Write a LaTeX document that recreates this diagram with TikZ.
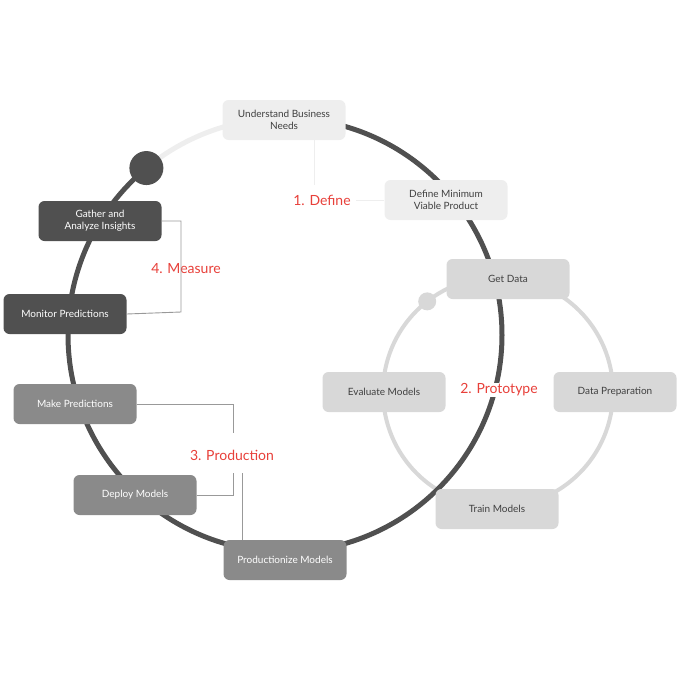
\documentclass[tikz,border=0pt]{standalone}
\usepackage{fontspec}
\setmainfont{Lato}
\usetikzlibrary{calc}
\begin{document}
\begin{tikzpicture}[x=1pt,y=-1pt,
 box/.style={rounded corners=6pt,minimum width=123pt,minimum height=40pt,align=center,font=\fontsize{10}{12}\selectfont,inner sep=2pt},
 vlight/.style={box,fill=c1,text=black!75},
 light/.style={box,fill=c2,text=black!75},
 mid/.style={box,fill=c3,text=white},
 dark/.style={box,fill=c4,text=white},
 lbl/.style={text=cr,fill=white,inner sep=1pt,font=\fontsize{14}{16}\selectfont},
 conn/.style={draw=gray!80,line width=0.9pt}]
\definecolor{c1}{HTML}{EEEEEE}\definecolor{c2}{HTML}{D8D8D8}
\definecolor{c3}{HTML}{8A8A8A}\definecolor{c4}{HTML}{505050}
\definecolor{cr}{HTML}{E8403A}
\useasboundingbox (0,0) rectangle (680,680);
% small circle
\draw[c2,line width=4pt] (498,392) circle (115);
\fill[c2] ($(498,392)+(128:115pt)$) circle (9);
% big circle
\draw[c1,line width=5pt] (285,335) ++(129.7:217pt) arc[start angle=129.7,end angle=90,radius=217pt];
\draw[c4,line width=5pt] (285,335) ++(90:217pt) arc[start angle=90,end angle=-230.3,radius=217pt];
\fill[c4] (285,335) ++(129.7:217pt) circle (17);
% nodes
\node[vlight] (ubn) at (284,120) {Understand Business\\Needs};
\node[vlight] (mvp) at (446,200) {Define Minimum\\Viable Product};
\node[light] (gd) at (508,279) {Get Data};
\node[light] (dp) at (615,392) {Data Preparation};
\node[light] (tm) at (497,509) {Train Models};
\node[light] (em) at (384,392) {Evaluate Models};
\node[dark] (ga) at (100,221) {Gather and\\Analyze Insights};
\node[dark] (mp) at (65,314) {Monitor Predictions};
\node[mid] (mk) at (75,404) {Make Predictions};
\node[mid] (dm) at (135,495) {Deploy Models};
\node[mid] (pm) at (285,560) {Productionize Models};
% labels
\node[lbl] (l1) at (322,200) {1. Define};
\node[lbl] (l2) at (499,390) {2. Prototype};
\node[lbl] (l3) at (232,455) {3. Production};
\node[lbl] (l4) at (186,269) {4. Measure};
% connectors
\draw[draw=c1,line width=0.9pt] (314,140) -- (314,185);
\draw[draw=c1,line width=0.9pt] (l1.east) ++(4,0) coordinate (d1) -- (mvp.west|-d1);
\draw[conn] (ga.east) -| (181,312) -- (mp.east);
\draw[conn] (mk.east) -| (233,433);
\draw[conn] (dm.east) -| (233,473);
\draw[conn] (242,473) -- (242,540);
\end{tikzpicture}
\end{document}
